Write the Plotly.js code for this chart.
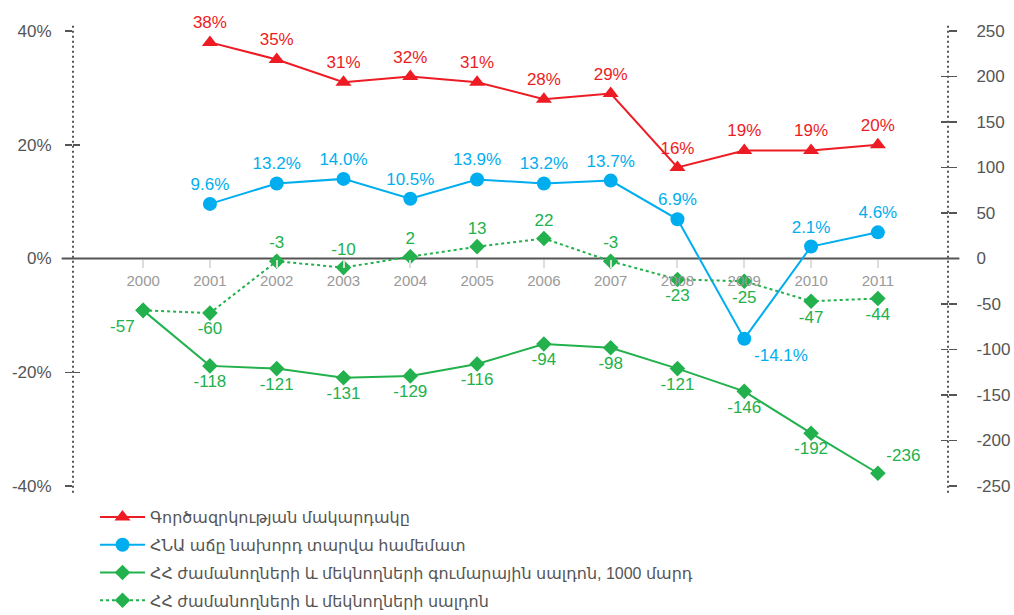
<!DOCTYPE html>
<html>
<head>
<meta charset="utf-8">
<script src="https://cdn.plot.ly/plotly-3.0.1.min.js"></script>
<style>html,body{margin:0;padding:0;background:#fff;}#chart{width:1014px;height:615px;}</style>
</head>
<body>
<div id="chart"></div>
<script>
// ---- data ----
const years = [2000, 2001, 2002, 2003, 2004, 2005, 2006, 2007, 2008, 2009, 2010, 2011];

const unemploymentYears = [2001, 2002, 2003, 2004, 2005, 2006, 2007, 2008, 2009, 2010, 2011];
const unemployment = [38, 35, 31, 32, 31, 28, 29, 16, 19, 19, 20];

const gdpYears = [2001, 2002, 2003, 2004, 2005, 2006, 2007, 2008, 2009, 2010, 2011];
const gdpGrowth = [9.6, 13.2, 14.0, 10.5, 13.9, 13.2, 13.7, 6.9, -14.1, 2.1, 4.6];

const migrationCumulative = [-57, -118, -121, -131, -129, -116, -94, -98, -121, -146, -192, -236];
const migrationAnnual = [-57, -60, -3, -10, 2, 13, 22, -3, -23, -25, -47, -44];

const seriesNames = [
  "Գործազրկության մակարդակը",
  "ՀՆԱ աճը նախորդ տարվա համեմատ",
  "ՀՀ ժամանողների և մեկնողների գումարային սալդոն, 1000 մարդ",
  "ՀՀ ժամանողների և մեկնողների սալդոն"
];

const leftTicks = [-40, -20, 0, 20, 40];
const rightTicks = [-250, -200, -150, -100, -50, 0, 50, 100, 150, 200, 250];

// ---- styles ----
const FONT = "Liberation Sans, Arial, DejaVu Sans, sans-serif";
const RED = "#ed1c24", BLUE = "#00aeef", GREEN = "#22b14c";

const gdpPos = gdpGrowth.map(v => v < 0 ? "bottom right" : "top center");
const cumPos = migrationCumulative.map((v, i) => i === migrationCumulative.length - 1 ? "top right" : "bottom center");
const cumText = migrationCumulative.map((v, i) => i === 0 ? "" : String(v));
const annPos = migrationAnnual.map((v, i) => i === 0 ? "bottom left" : (i === 1 ? "bottom center" : (i <= 7 ? "top center" : "bottom center")));

const traces = [
  {
    x: unemploymentYears, y: unemployment, name: seriesNames[0], yaxis: "y",
    mode: "lines+markers+text", text: unemployment.map(v => v + "%"),
    textposition: "top center", textfont: {color: RED, size: 17, family: FONT},
    line: {color: RED, width: 2}, marker: {symbol: "triangle-up", size: 14, color: RED},
    legendgroup: "a", cliponaxis: false
  },
  {
    x: gdpYears, y: gdpGrowth, name: seriesNames[1], yaxis: "y",
    mode: "lines+markers+text", text: gdpGrowth.map(v => v.toFixed(1) + "%"),
    textposition: gdpPos, textfont: {color: BLUE, size: 17, family: FONT},
    line: {color: BLUE, width: 2}, marker: {symbol: "circle", size: 14, color: BLUE},
    legendgroup: "b", cliponaxis: false
  },
  {
    x: years, y: migrationCumulative, name: seriesNames[2], yaxis: "y2",
    mode: "lines+markers+text", text: cumText,
    textposition: cumPos, textfont: {color: GREEN, size: 17, family: FONT},
    line: {color: GREEN, width: 2}, marker: {symbol: "diamond", size: 12, color: GREEN},
    legendgroup: "c", cliponaxis: false
  },
  {
    x: years, y: migrationAnnual, name: seriesNames[3], yaxis: "y2",
    mode: "lines+markers+text", text: migrationAnnual.map(String),
    textposition: annPos, textfont: {color: GREEN, size: 17, family: FONT},
    line: {color: GREEN, width: 2, dash: "dot"}, marker: {symbol: "diamond", size: 12, color: GREEN},
    legendgroup: "d", cliponaxis: false
  }
];

const axisCommon = {showgrid: false, zeroline: false, showline: false, fixedrange: true};

const layout = {
  width: 1014, height: 615,
  margin: {l: 73, r: 66, t: 31, b: 129, autoexpand: false},
  paper_bgcolor: "#fff", plot_bgcolor: "#fff",
  font: {family: FONT, color: "#555"},
  showlegend: true,
  legend: {
    x: 22 / 875, y: -14 / 455, xanchor: "left", yanchor: "top",
    font: {size: 16, color: "#555", family: FONT},
    itemwidth: 45,
    tracegroupgap: 4, traceorder: "grouped", bgcolor: "rgba(0,0,0,0)"
  },
  xaxis: Object.assign({}, axisCommon, {
    range: [1998.95, 2012.05], tickvals: years, ticktext: years.map(String),
    anchor: "free", position: 0.5, ticks: "outside", ticklen: 8, tickwidth: 2, tickcolor: "#ddd",
    tickfont: {size: 15, color: "#999", family: FONT}
  }),
  yaxis: Object.assign({}, axisCommon, {
    range: [-40, 40], tickvals: leftTicks, ticktext: leftTicks.map(v => v + "%"),
    ticks: "outside", ticklen: 7, tickwidth: 1.5, tickcolor: "#555",
    ticklabelstandoff: 10, tickfont: {size: 17, color: "#555", family: FONT}
  }),
  yaxis2: Object.assign({}, axisCommon, {
    range: [-250, 250], tickvals: rightTicks, ticktext: rightTicks.map(String),
    overlaying: "y", side: "right", anchor: "x",
    ticks: "outside", ticklen: 8, tickwidth: 1.5, tickcolor: "#555",
    ticklabelstandoff: 16, tickfont: {size: 17, color: "#555", family: FONT}
  }),
  yaxis3: Object.assign({}, axisCommon, {
    range: [-40, 40], tickvals: leftTicks, showticklabels: false,
    overlaying: "y", side: "left", anchor: "x",
    ticks: "inside", ticklen: 7, tickwidth: 1.5, tickcolor: "#555"
  }),
  yaxis4: Object.assign({}, axisCommon, {
    range: [-250, 250], tickvals: rightTicks, showticklabels: false,
    overlaying: "y", side: "right", anchor: "x",
    ticks: "inside", ticklen: 7, tickwidth: 1.5, tickcolor: "#555"
  }),
  shapes: [
    {type: "line", xref: "paper", yref: "y", x0: -0.013, x1: 1.013, y0: 0, y1: 0,
     line: {color: "#555", width: 2}, layer: "below"},
    {type: "line", xref: "paper", yref: "paper", x0: 0, x1: 0, y0: -0.015, y1: 1.017,
     line: {color: "#555", width: 2, dash: "2px,3px"}, layer: "below"},
    {type: "line", xref: "paper", yref: "paper", x0: 1, x1: 1, y0: -0.015, y1: 1.017,
     line: {color: "#555", width: 2, dash: "2px,3px"}, layer: "below"}
  ]
};

// invisible helper traces that activate the overlay tick axes
traces.push({x: [years[0]], y: [0], yaxis: "y3", mode: "markers", marker: {opacity: 0}, showlegend: false, hoverinfo: "skip"});
traces.push({x: [years[0]], y: [0], yaxis: "y4", mode: "markers", marker: {opacity: 0}, showlegend: false, hoverinfo: "skip"});

Plotly.newPlot("chart", traces, layout, {displayModeBar: false, staticPlot: true});
</script>
</body>
</html>
